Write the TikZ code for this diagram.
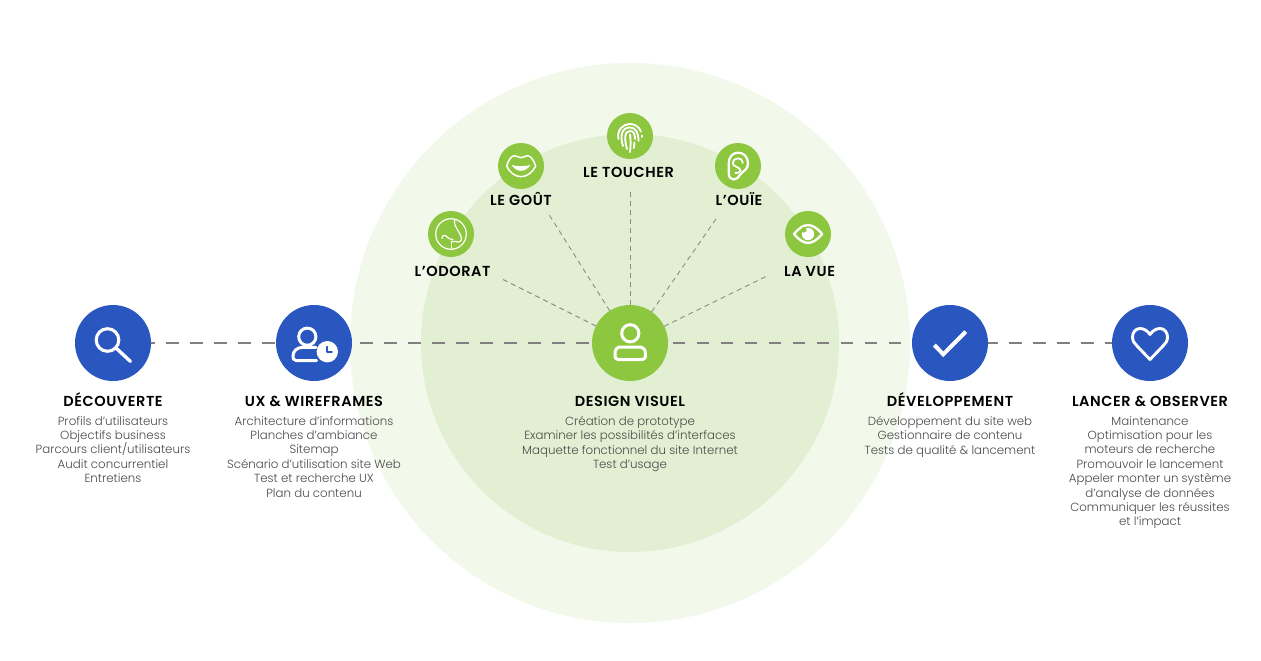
\documentclass[tikz,border=0pt]{standalone}
\usepackage{fontspec}
\setmainfont{Poppins}
\newfontfamily\bodyf{Poppins Light}
\newfontfamily\headf[LetterSpace=4]{Poppins SemiBold}
\definecolor{blueA}{HTML}{2A56C0}
\definecolor{greenA}{HTML}{8DC63F}
\definecolor{haloA}{HTML}{F2F8EA}
\definecolor{haloB}{HTML}{E2EFD2}
\definecolor{dashA}{HTML}{808080}
\definecolor{spokeA}{HTML}{8C8C8C}
\definecolor{bodyA}{HTML}{4A4A4A}
\tikzset{
  bigblue/.style={circle,fill=blueA,minimum size=76pt,inner sep=0pt,outer sep=0pt},
  biggreen/.style={circle,fill=greenA,minimum size=76pt,inner sep=0pt,outer sep=0pt},
  smallgreen/.style={circle,fill=greenA,minimum size=46pt,inner sep=0pt,outer sep=0pt},
  halo/.style={circle,inner sep=0pt,outer sep=0pt},
  titlelab/.style={font=\headf\fontsize{14.5}{16}\selectfont,text=black,inner sep=0pt,anchor=base},
  bodylab/.style={font=\bodyf\fontsize{11.8}{14.4}\selectfont,text=bodyA,inner sep=0pt,anchor=north,align=center},
  hdash/.style={draw=dashA,line width=2pt,dash pattern=on 12.7pt off 11.3pt},
  spoke/.style={draw=spokeA,line width=0.9pt,dash pattern=on 5pt off 4pt},
  ico/.style={draw=white,line cap=round,line join=round,fill=none},
}
\begin{document}
\begin{tikzpicture}[x=1pt,y=-1pt]
\useasboundingbox (0,0) rectangle (1261,661);
\fill[white] (0,0) rectangle (1261,661);
\node[halo,fill=haloA,minimum size=560pt] (outer) at (630,343) {};
\node[halo,fill=haloB,minimum size=418pt] (inner) at (630,343) {};
% main nodes
\node[bigblue] (c1) at (113,343) {};
\node[bigblue] (c2) at (314,343) {};
\node[biggreen] (c3) at (630,343) {};
\node[bigblue] (c4) at (950,343) {};
\node[bigblue] (c5) at (1150,343) {};
% sense nodes
\node[smallgreen] (s1) at (451,234) {};
\node[smallgreen] (s2) at (521,166) {};
\node[smallgreen] (s3) at (630,136) {};
\node[smallgreen] (s4) at (738,166) {};
\node[smallgreen] (s5) at (808,234) {};
% spoke ends
\coordinate (e1) at (502,279);
\coordinate (e2) at (548,213);
\coordinate (e3) at (630,190);
\coordinate (e4) at (716,219);
\coordinate (e5) at (767,276);
% connectors
\draw[hdash,dash phase=8.7pt] (c1) -- (c2);
\draw[hdash,dash phase=16pt] (c2) -- (c3);
\draw[hdash,dash phase=19.3pt] (c3) -- (c4);
\draw[hdash,dash phase=2.7pt] (c4) -- (c5);
\foreach \i in {1,...,5} { \draw[spoke] (c3) -- (e\i); }
% icons: magnifier
\begin{scope}[shift={(c1)}]
  \draw[ico,line width=3.1pt] (-5.5,-3) circle (11.3);
  \draw[ico,line width=3.4pt] (3,5) -- (17.5,18.5);
\end{scope}
% user + clock
\begin{scope}[shift={(c2)}]
  \draw[ico,line width=3pt] (-6.7,-6.3) circle (8.6);
  \draw[ico,line width=3pt] (2.5,17.5) -- (-18,17.5) .. controls (-21,17.5) and (-21,15) .. (-21,13)
     .. controls (-21,8) and (-17,4.3) .. (-11,4.3) -- (2,4.3);
  \fill[white] (13.3,8.7) circle (10.7);
  \draw[draw=blueA,line width=1.8pt,line cap=round,line join=round] (13.3,3.7) -- (13.3,9.3) -- (18,9.3);
\end{scope}
% person
\begin{scope}[shift={(c3)}]
  \draw[ico,line width=3pt] (0.3,-9.7) circle (8.6);
  \draw[ico,line width=3pt] (-11,4) -- (11,4) .. controls (13.5,4.2) and (15.5,7) .. (15.5,11)
     .. controls (15.5,14.5) and (15,16.5) .. (12.5,16.5) -- (-12,16.5)
     .. controls (-14.5,16.5) and (-15,14.5) .. (-15,11) .. controls (-15,7) and (-13.5,4.2) .. cycle;
\end{scope}
% check
\begin{scope}[shift={(c4)}]
  \draw[ico,line width=4pt,line cap=butt,line join=miter] (-15.7,2) -- (-6.7,11.3) -- (15.7,-11.3);
\end{scope}
% heart
\begin{scope}[shift={(c5)}]
  \draw[ico,line width=2.9pt] (0,-8.5) .. controls (-3,-13) and (-7,-14.5) .. (-10,-14.5)
     .. controls (-14.5,-14.5) and (-17.5,-10.5) .. (-17.5,-6)
     .. controls (-17.5,-2) and (-15.5,0.5) .. (-13,3) -- (0,16.5) -- (13,3)
     .. controls (15.5,0.5) and (17.5,-2) .. (17.5,-6)
     .. controls (17.5,-10.5) and (14.5,-14.5) .. (10,-14.5)
     .. controls (7,-14.5) and (3,-13) .. cycle;
\end{scope}
% nose
\begin{scope}[shift={(s1)}]
  \draw[ico,line width=1.2pt] (0,0) circle (15.3);
  \draw[ico,line width=1.2pt] (3.5,-14.5) .. controls (2.5,-6) and (10.5,-1) .. (10.5,4.5)
     .. controls (10.5,8) and (7.5,8.5) .. (4.5,7.5) -- (0.7,7.5);
  \draw[ico,line width=1.2pt] (-9,4.5) .. controls (-9,0.5) and (-5,0.5) .. (-3.5,3.5)
     .. controls (-2.5,5.5) and (0,4.5) .. (2,5.5);
  \draw[ico,line width=1.2pt] (0.7,15) -- (0.7,7.5);
\end{scope}
% lips
\begin{scope}[shift={(s2)}]
  \draw[ico,line width=1.5pt] (-14.3,0) .. controls (-13,-5) and (-10,-10.3) .. (-6.7,-10.3)
     .. controls (-4,-10.3) and (-2,-8.3) .. (0,-8.3) .. controls (2,-8.3) and (4,-10.3) .. (6.7,-10.3)
     .. controls (10,-10.3) and (13,-5) .. (14.7,0) .. controls (12,6) and (6,10.7) .. (0,10.7)
     .. controls (-6,10.7) and (-12,6) .. cycle;
  \fill[white] (-9.5,-1) .. controls (-5,0.5) and (5,0.5) .. (9.5,-1) .. controls (6.5,3.4) and (3,4.8) .. (0,4.8)
     .. controls (-3,4.8) and (-6.5,3.4) .. cycle;
\end{scope}
% fingerprint
\begin{scope}[shift={(s3)}]
  \draw[ico,line width=1.9pt] (-11.5,3) .. controls (-13.5,-6) and (-7,-12) .. (0,-12)
     .. controls (5,-12) and (9,-9) .. (11,-4.5);
  \draw[ico,line width=1.9pt] (12,-0.5) -- (12,1);
  \draw[ico,line width=1.9pt] (-7,10) .. controls (-10,1) and (-9,-8.5) .. (0,-8.5)
     .. controls (6,-8.5) and (8.5,-3) .. (8.5,5);
  \draw[ico,line width=1.9pt] (-3,13) .. controls (-5.5,4) and (-6,-5) .. (0,-5)
     .. controls (4,-5) and (5,-1) .. (5,3);
  \draw[ico,line width=1.9pt] (4.5,6.5) -- (3.8,12);
  \draw[ico,line width=1.9pt] (0,-1.5) .. controls (0.8,4) and (0.8,10) .. (0,16);
\end{scope}
% ear
\begin{scope}[shift={(s4)}]
  \draw[ico,line width=2.2pt] (0,-13.3) .. controls (-6,-13.3) and (-9.3,-8) .. (-9.3,-2.7)
     -- (-9.3,7.3) .. controls (-9.3,11) and (-7,13.6) .. (-4.3,13.6)
     .. controls (-1,13.6) and (0.5,11) .. (2.3,8.5) .. controls (5,5) and (10,3.5) .. (10,-2.5)
     .. controls (10,-9) and (6,-13.3) .. cycle;
  \draw[ico,line width=1.8pt] (4.7,-3) .. controls (4.5,-6.5) and (2,-7.7) .. (0,-7.7)
     .. controls (-3,-7.7) and (-5.3,-5.5) .. (-5.3,-3) .. controls (-5.3,1) and (2.5,1) .. (2.5,4.5)
     .. controls (2.5,6.5) and (0,7.5) .. (-2.7,7);
\end{scope}
% eye
\begin{scope}[shift={(s5)}]
  \draw[ico,line width=2.4pt] (-14,0) .. controls (-9,-6) and (-4.5,-8.9) .. (0,-8.9)
     .. controls (4.5,-8.9) and (9,-6) .. (14.2,0) .. controls (9,6) and (4.5,8.9) .. (0,8.9)
     .. controls (-4.5,8.9) and (-9,6) .. cycle;
  \fill[white] (0,0) circle (6.2);
  \fill[greenA] (-4.2,-4.2) circle (2.8);
\end{scope}
% sense labels
\node[titlelab] (l1) at (452.5,276) {L’ODORAT};
\node[titlelab] (l2) at (521,205) {LE GOÛT};
\node[titlelab] (l3) at (628.5,177) {LE TOUCHER};
\node[titlelab] (l4) at (739,205) {L’OUÏE};
\node[titlelab] (l5) at (809.5,276) {LA VUE};
% step titles
\node[titlelab] (t1) at (113,406) {DÉCOUVERTE};
\node[titlelab] (t2) at (314,406) {UX \& WIREFRAMES};
\node[titlelab] (t3) at (630,406) {DESIGN VISUEL};
\node[titlelab] (t4) at (950,406) {DÉVELOPPEMENT};
\node[titlelab] (t5) at (1150,406) {LANCER \& OBSERVER};
% step texts
\node[bodylab] (b1) at (113,416) {Profils d’utilisateurs\\Objectifs business\\Parcours client/utilisateurs\\Audit concurrentiel\\Entretiens};
\node[bodylab] (b2) at (314,416) {Architecture d’informations\\Planches d’ambiance\\Sitemap\\Scénario d’utilisation site Web\\Test et recherche UX\\Plan du contenu};
\node[bodylab] (b3) at (630,416) {Création de prototype\\Examiner les possibilités d’interfaces\\Maquette fonctionnel du site Internet\\Test d’usage};
\node[bodylab] (b4) at (950,416) {Développement du site web\\Gestionnaire de contenu\\Tests de qualité \& lancement};
\node[bodylab] (b5) at (1150,416) {Maintenance\\Optimisation pour les\\moteurs de recherche\\Promouvoir le lancement\\Appeler monter un système\\d’analyse de données\\Communiquer les réussites\\et l’impact};
\end{tikzpicture}
\end{document}
